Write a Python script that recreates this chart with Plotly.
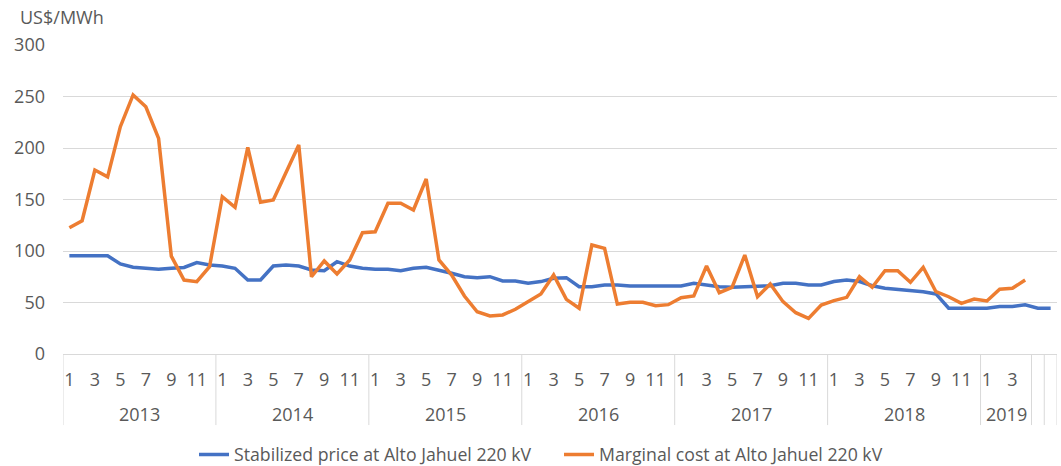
import plotly.graph_objects as go

years = ["2013", "2014", "2015", "2016", "2017", "2018", "2019", "", ""]
months_per_year = [12, 12, 12, 12, 12, 12, 4, 1, 1]

stabilized = [95.4, 95.4, 95.4, 95.4, 87.4, 84.2, 83.2, 82.2, 83.2, 84.0, 88.7, 86.4,
              85.4, 83.2, 71.8, 71.8, 85.4, 86.4, 85.4, 81.6, 80.9, 89.6, 85.4, 83.2,
              82.2, 82.2, 80.9, 83.2, 84.2, 81.6, 78.4, 75.1, 74.1, 75.1, 70.9, 70.9,
              68.7, 70.3, 73.5, 74.1, 65.4, 65.4, 67.0, 67.0, 66.0, 66.0, 66.0, 66.0,
              66.0, 68.6, 67.0, 65.4, 64.7, 65.4, 65.4, 66.3, 68.6, 68.6, 67.0, 67.0,
              70.3, 71.8, 70.3, 66.3, 63.8, 62.8, 61.5, 60.5, 58.3, 44.5, 44.5, 44.5,
              44.5, 46.1, 46.1, 47.7, 44.5, 44.5]

marginal = [122.6, 129.4, 178.6, 172.0, 220.7, 251.5, 240.0, 209.4, 95.0, 71.8, 70.2, 84.8,
            152.7, 142.4, 200.6, 147.3, 149.5, 176.0, 203.0, 75.0, 90.3, 77.7, 91.3, 117.8,
            118.7, 146.3, 146.3, 139.8, 169.9, 91.3, 76.7, 56.3, 41.0, 36.9, 37.9, 43.4,
            50.8, 58.3, 76.7, 53.1, 44.4, 105.8, 102.6, 48.5, 50.2, 50.2, 46.9, 47.9,
            54.7, 56.3, 85.4, 59.5, 64.7, 96.1, 55.6, 68.0, 50.8, 40.1, 34.6, 47.6,
            51.8, 55.0, 75.0, 64.7, 80.9, 80.9, 69.6, 84.2, 60.5, 55.6, 49.2, 53.4,
            51.5, 62.8, 63.8, 71.8]

y_ticks = [0, 50, 100, 150, 200, 250, 300]

# build category index & month labels
month_labels = []
for yr, n in zip(years, months_per_year):
    for m in range(1, n + 1):
        month_labels.append(str(m) if yr else "")
x_idx = list(range(len(month_labels)))

tick_vals = [i for i, lab in enumerate(month_labels) if lab and int(lab) % 2 == 1]
tick_text = [month_labels[i] for i in tick_vals]

fig = go.Figure()
fig.add_trace(go.Scatter(x=x_idx[:len(stabilized)], y=stabilized, mode="lines",
                         name="Stabilized price at Alto Jahuel 220 kV",
                         line=dict(color="#4472C4", width=3.5)))
fig.add_trace(go.Scatter(x=x_idx[:len(marginal)], y=marginal, mode="lines",
                         name="Marginal cost at Alto Jahuel 220 kV",
                         line=dict(color="#ED7D31", width=3.5)))

gray = "#595959"
font_family = "Open Sans, Liberation Sans, sans-serif"
fs = 18

# year group boundaries, labels
shapes = []
annotations = []
start = 0
bounds = [-0.5]
for yr, n in zip(years, months_per_year):
    end = start + n
    bounds.append(end - 0.5)
    if yr:
        annotations.append(dict(x=(start + end - 1) / 2, y=-0.194, xref="x", yref="paper",
                                text=yr, showarrow=False, yanchor="middle",
                                font=dict(size=fs, color=gray, family=font_family)))
    start = end
for b in bounds:
    shapes.append(dict(type="line", xref="x", yref="paper", x0=b, x1=b, y0=0, y1=-0.23,
                       line=dict(color="#D9D9D9", width=1)))

annotations.append(dict(x=-0.0453, y=1.0906, xref="paper", yref="paper", text="US$/MWh",
                        showarrow=False, xanchor="left", yanchor="middle",
                        font=dict(size=fs, color=gray, family=font_family)))

fig.update_layout(
    width=1061, height=466,
    margin=dict(l=63, r=4, t=45, b=112, autoexpand=False),
    plot_bgcolor="white", paper_bgcolor="white",
    font=dict(family=font_family, size=fs, color=gray),
    showlegend=True,
    legend=dict(orientation="h", x=0.1318, xanchor="left", y=-0.3269, yanchor="middle",
                font=dict(size=17.7, color=gray), itemwidth=30,
                entrywidth=320, entrywidthmode="pixels"),
    shapes=shapes,
    annotations=annotations,
    hovermode=False,
)
fig.update_xaxes(range=[-0.5, len(month_labels) - 0.5], tickmode="array",
                 tickvals=tick_vals, ticktext=tick_text, showgrid=False,
                 showline=True, linecolor="#D9D9D9", linewidth=1, automargin=False,
                 ticks="", ticklabelstandoff=9, zeroline=False,
                 tickfont=dict(size=fs, color=gray))
fig.update_yaxes(range=[0, 300], tickvals=y_ticks, showgrid=True, gridcolor="#D9D9D9",
                 gridwidth=1, zeroline=False, showline=False, ticks="", automargin=False,
                 tickfont=dict(size=fs, color=gray), ticklabelstandoff=17)

fig.write_html("out.html", config={"displayModeBar": False},
               post_script="document.body.style.margin='0';document.body.style.overflow='hidden';")
